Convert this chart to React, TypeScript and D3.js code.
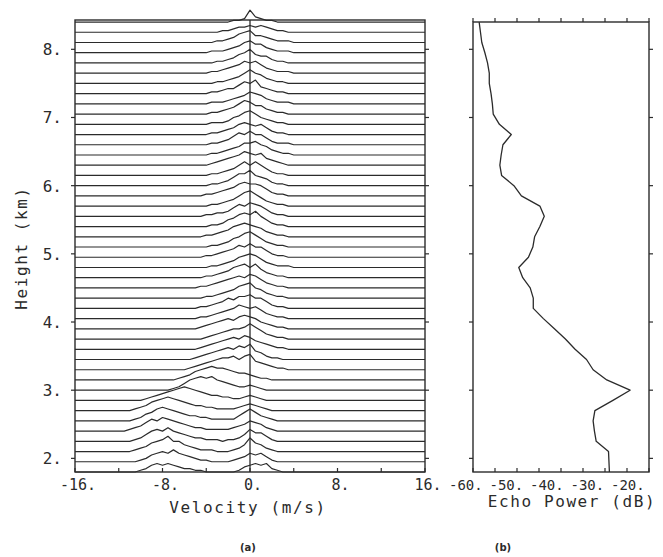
import React from 'react';
import * as d3 from 'd3';

// velocity bins (m/s) used by the spectra strings, one char per bin
const velocityBins = [
  -12, -11.5, -11, -10.5, -10, -9.5, -9, -8.5, -8, -7.5,
  -7, -6.5, -6, -5.5, -5, -4.5, -4, -3.5, -3, -2.5,
  -2, -1.5, -1, -0.5, 0, 0.5, 1, 1.5, 2, 2.5,
  3, 3.5, 4, 4.5, 5,
];

// range gates (km), bottom to top
const heights = [
  1.8, 1.95, 2.1, 2.25, 2.4, 2.55, 2.7, 2.85, 3.0, 3.15,
  3.3, 3.45, 3.6, 3.75, 3.9, 4.05, 4.2, 4.35, 4.5, 4.65,
  4.8, 4.95, 5.1, 5.25, 5.4, 5.55, 5.7, 5.85, 6.0, 6.15,
  6.3, 6.45, 6.6, 6.75, 6.9, 7.05, 7.2, 7.35, 7.5, 7.65,
  7.8, 7.95, 8.1, 8.25, 8.4,
];

// Doppler spectra, amplitude digit per velocity bin (same order as heights)
const spectra = [
  '0000124545 4322110000 0013454521 00000',
  '0000124565 7543211000 0123545310 00000',
  '0001235679 6643211100 0124854210 00000',
  '0001246768 6543221110 1124755310 00000',
  '0012357687 6543221111 1234654210 00000',
  '0001245787 6543322111 1135753210 00000',
  '0001235678 7654332211 1123432100 00000',
  '0000012345 6787654332 2112321000 00000',
  '0000000000 1246787865 4322321000 00000',
  '0000000000 0123567877 6544321100 00000',
  '0000000000 0001234567 7868954321 10000',
  '0000000000 0000123456 7687954211 00000',
  '0000000000 0000012345 6768754321 10000',
  '0000000000 0000001234 5667975321 10000',
  '0000000000 0000012345 6578764321 10000',
  '0000000000 0000011234 5687675321 10000',
  '0000000000 0000011234 6577866421 10000',
  '0000000000 0000001123 4578965321 10000',
  '0000000000 0000011234 5676875321 10000',
  '0000000000 0000001123 4678685321 10000',
  '0000000000 0000000112 3467875321 11000',
  '0000000000 0000001123 4576866421 10000',
  '0000000000 0000000112 3568975321 10000',
  '0000000000 0000001123 4678765321 10000',
  '0000000000 0000000112 4578796421 10000',
  '0000000000 0000001122 3576876421 10000',
  '0000000000 0000000112 3468975321 10000',
  '0000000000 0000001123 4578776421 10000',
  '0000000000 0000000112 3577965421 10000',
  '0000000000 0000000112 3468686421 10000',
  '0000000000 0000000123 4568767432 10000',
  '0000000000 0000000112 3457786532 11000',
  '0000000000 0000000112 3576866421 11000',
  '0000000000 0000000112 3467656421 10000',
  '0000000000 0000000111 2457864321 10000',
  '0000000000 0000000112 3468755321 10000',
  '0000000000 0000000111 2345765321 11000',
  '0000000000 0000000112 3357684321 10000',
  '0000000000 0000000011 2346865321 10000',
  '0000000000 0000000112 3457675321 11000',
  '0000000000 0000000011 2356854421 10000',
  '0000000000 0000000111 2346755321 11000',
  '0000000000 0000000011 2356744321 11000',
  '0000000000 0000000001 1233434321 10000',
  '0000000000 0000000000 0112732110 00000',
];

// echo power profile (dB), same heights
const echoPower = [
  -29.0, -29.1, -29.2, -32.0, -32.4, -32.7, -32.3, -28.2, -24.3, -29.6,
  -32.7, -34.2, -36.8, -39.0, -41.5, -44.0, -46.3, -46.3, -47.0, -48.7,
  -49.6, -47.4, -46.4, -46.0, -44.8, -43.8, -44.8, -49.0, -50.7, -53.5,
  -53.9, -53.6, -53.2, -51.3, -54.0, -55.4, -55.6, -55.9, -56.3, -56.3,
  -56.7, -57.3, -58.0, -58.3, -58.6,
];

const velocityTicks = [-16, -12, -8, -4, 0, 4, 8, 12, 16];
const velocityLabels = [-16, -8, 0, 8, 16];
const heightTicks = [2, 3, 4, 5, 6, 7, 8];
const powerTicks = [-60, -55, -50, -45, -40, -35, -30, -25, -20];
const powerLabels = [-60, -50, -40, -30, -20];

const W = 663;
const H = 557;
const ink = '#2b2b2b';
const font = '"DejaVu Sans Mono", monospace';
const unit = 1.7; // px per amplitude step

export default function App() {
  const x = d3.scaleLinear().domain([-16, 16]).range([75, 425]);
  const y = d3.scaleLinear().domain([1.8, 8.43]).range([472, 20]);
  const xp = d3.scaleLinear().domain([-60, -20]).range([473, 649]);
  const left = { x0: 75, x1: 425, y0: 20, y1: 472 };
  const right = { x0: 473, x1: 649, y0: 22, y1: 472 };

  const traces = spectra.map((s, i) => {
    const digits = s.replace(/ /g, '');
    const base = y(heights[i]);
    const pts: [number, number][] = [[-16, 0]];
    velocityBins.forEach((v, k) => pts.push([v, +(digits[k] || 0)]));
    pts.push([16, 0]);
    const line = d3.line<[number, number]>()
      .x(d => x(d[0]))
      .y(d => base - d[1] * unit)(pts);
    const area = d3.area<[number, number]>()
      .x(d => x(d[0]))
      .y0(base)
      .y1(d => base - d[1] * unit)(pts);
    return { line, area, i };
  });
  // back to front: top gate first so lower spectra hide it
  const ordered = traces.slice().reverse();

  const profile = d3.line<number>()
    .x(d => xp(d))
    .y((d, i) => y(heights[i]))(echoPower);

  const tk = 4;

  return (
    <svg width={W} height={H} style={{ position: 'absolute', left: 0, top: 0, background: '#fff' }}>
      {/* spectra (a) */}
      {ordered.map(t => (
        <g key={t.i}>
          <path d={t.area || ''} fill="#fff" stroke="none" />
          <path d={t.line || ''} fill="none" stroke={ink} strokeWidth={1.2} strokeLinejoin="round" />
        </g>
      ))}
      <line x1={x(0)} x2={x(0)} y1={left.y0} y2={left.y1} stroke={ink} strokeWidth={1.3} />
      <rect x={left.x0} y={left.y0} width={left.x1 - left.x0} height={left.y1 - left.y0}
        fill="none" stroke={ink} strokeWidth={1.4} />
      {velocityTicks.map(v => (
        <line key={v} x1={x(v)} x2={x(v)} y1={left.y1} y2={left.y1 - tk} stroke={ink} strokeWidth={1.2} />
      ))}
      {heightTicks.map(h => (
        <g key={h}>
          <line x1={left.x0 - tk} x2={left.x0} y1={y(h)} y2={y(h)} stroke={ink} strokeWidth={1.2} />
          <line x1={left.x1} x2={left.x1 + tk} y1={y(h)} y2={y(h)} stroke={ink} strokeWidth={1.2} />
          <text x={62} y={y(h) + 6} textAnchor="end" fontFamily={font} fontSize={16} fill={ink}>{`${h}.`}</text>
        </g>
      ))}
      {velocityLabels.map(v => (
        <text key={v} x={x(v) + 3} y={490} textAnchor="middle"
          fontFamily={font} fontSize={15} fill={ink}>{`${v}.`}</text>
      ))}
      <text x={248} y={513} textAnchor="middle" fontFamily={font} fontSize={16} letterSpacing={1.6} fill={ink}>
        Velocity (m/s)
      </text>
      <text transform="translate(27,248) rotate(-90)" textAnchor="middle" fontFamily={font} fontSize={16}
        letterSpacing={1.6} fill={ink}>Height (km)</text>
      <text x={248} y={551} textAnchor="middle" fontFamily='"DejaVu Sans", sans-serif' fontSize={10}
        fontWeight="bold" fill={ink}>(a)</text>

      {/* echo power (b) */}
      <path d={profile || ''} fill="none" stroke={ink} strokeWidth={1.3} strokeLinejoin="round" />
      <rect x={right.x0} y={right.y0} width={right.x1 - right.x0} height={right.y1 - right.y0}
        fill="none" stroke={ink} strokeWidth={1.4} />
      {powerTicks.map(p => (
        <g key={p}>
          <line x1={xp(p)} x2={xp(p)} y1={right.y0} y2={right.y0 - tk} stroke={ink} strokeWidth={1.2} />
          <line x1={xp(p)} x2={xp(p)} y1={right.y1} y2={right.y1 - tk} stroke={ink} strokeWidth={1.2} />
        </g>
      ))}
      {heightTicks.map(h => (
        <g key={h}>
          <line x1={right.x0 - tk} x2={right.x0} y1={y(h)} y2={y(h)} stroke={ink} strokeWidth={1.2} />
          <line x1={right.x1} x2={right.x1 + tk} y1={y(h)} y2={y(h)} stroke={ink} strokeWidth={1.2} />
        </g>
      ))}
      {powerLabels.map(p => (
        <text key={p} x={xp(p) - 24 - (p + 60) * 0.35} y={490} textAnchor="start" fontFamily={font}
          fontSize={14} fill={ink}>{`${p}.`}</text>
      ))}
      <text x={572} y={507} textAnchor="middle" fontFamily={font} fontSize={16} letterSpacing={1.6} fill={ink}>
        Echo Power (dB)
      </text>
      <text x={503} y={551} textAnchor="middle" fontFamily='"DejaVu Sans", sans-serif' fontSize={10}
        fontWeight="bold" fill={ink}>(b)</text>
    </svg>
  );
}
